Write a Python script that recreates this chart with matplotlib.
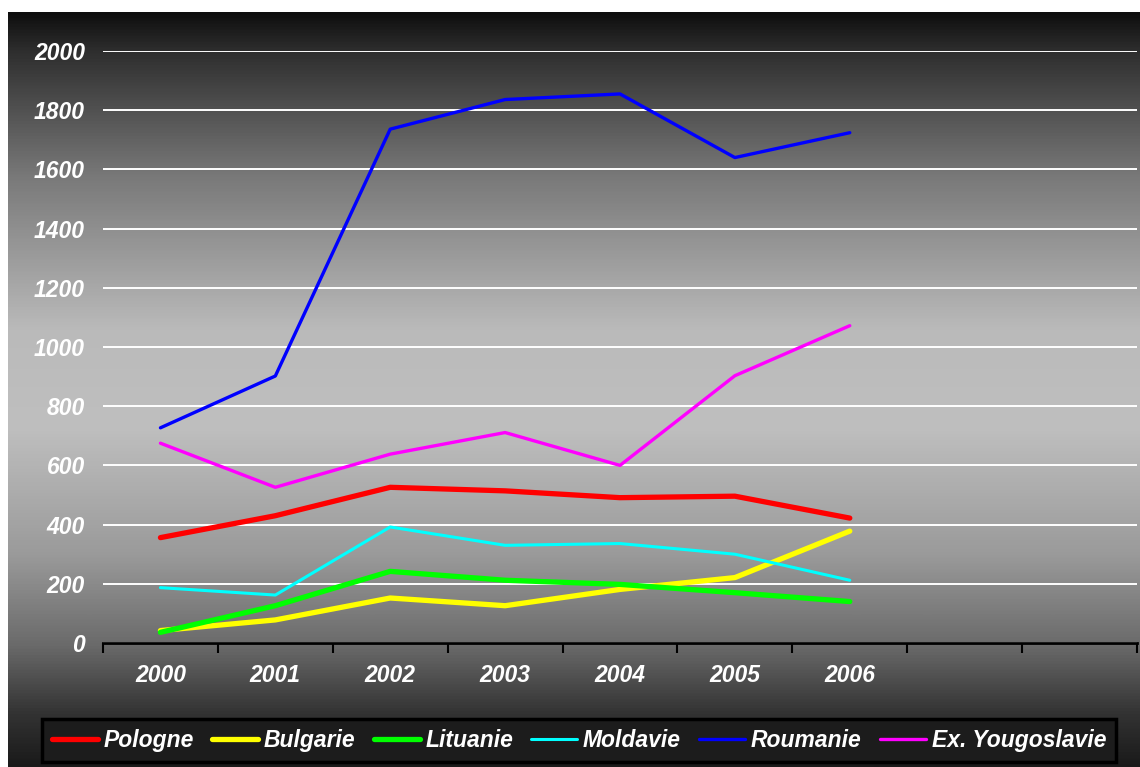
#!/usr/bin/env python

import matplotlib
matplotlib.use('Agg')
import matplotlib.pyplot as pyplot
import numpy as np
from matplotlib.colors import LinearSegmentedColormap

years = ['2000', '2001', '2002', '2003', '2004', '2005', '2006']
nrSlots = 9  # the category axis leaves two empty slots on the right

pologne   = [356, 430, 526, 514, 491, 496, 422]
bulgarie  = [42, 78, 152, 126, 181, 221, 378]
lituanie  = [36, 126, 242, 212, 198, 170, 140]
moldavie  = [187, 162, 392, 330, 336, 300, 212]
roumanie  = [727, 902, 1736, 1836, 1855, 1640, 1724]
yougo     = [675, 526, 638, 711, 600, 903, 1072]

series = [
        ('Pologne',         pologne,  '#ff0000', 3.8),
        ('Bulgarie',        bulgarie, '#ffff00', 3.8),
        ('Lituanie',        lituanie, '#00ff00', 3.8),
        ('Moldavie',        moldavie, '#00ffff', 2.2),
        ('Roumanie',        roumanie, '#0000ff', 2.4),
        ('Ex. Yougoslavie', yougo,    '#ff00ff', 2.4),
]

W, H = 1140, 767
fig = pyplot.figure(figsize=(W / 100.0, H / 100.0), dpi=100)
fig.patch.set_facecolor('white')

font = {'family': 'Liberation Sans', 'weight': 'bold', 'style': 'italic', 'size': 16.5}

# gradient backdrop (black -> light grey -> black)
bg = fig.add_axes([8.0 / W, 0, 1 - 8.0 / W, (H - 12.0) / H])
bg.set_axis_off()
stops = [(0.0, '#0e0e0e'), (0.05, '#2e2e2e'), (0.22, '#7a7a7a'), (0.42, '#bababa'),
         (0.55, '#bfbfbf'), (0.72, '#9a9a9a'), (0.84, '#6a6a6a'), (0.93, '#333333'), (1.0, '#1a1a1a')]
cmap = LinearSegmentedColormap.from_list('bg', stops)
bg.imshow(np.linspace(0, 1, 512).reshape(-1, 1), cmap=cmap, aspect='auto', extent=[0, 1, 0, 1])
bg.set_xlim(0, 1)
bg.set_ylim(0, 1)

ax = fig.add_axes([103.0 / W, (H - 643.0) / H, (1137.0 - 103.0) / W, (643.0 - 51.0) / H])
ax.patch.set_alpha(0)

x = np.arange(len(years)) + 0.5
for name, values, color, lw in series:
        ax.plot(x, values, color=color, linewidth=lw, label=name, solid_capstyle='round', zorder=3)

ax.set_xlim(0, nrSlots)
ax.set_ylim(0, 2000)
ax.set_yticks(np.arange(0, 2001, 200))
ax.yaxis.grid(True, color='white', linewidth=1.4)
ax.set_axisbelow(True)

ax.set_xticks(x)
ax.set_xticklabels(years)
ax.set_xticks(np.arange(nrSlots + 1), minor=True)
ax.tick_params(axis='x', which='major', length=0, pad=15)
ax.tick_params(axis='x', which='minor', length=7, width=1.5, color='black', direction='out')
ax.tick_params(axis='y', length=0, pad=13)
for lab in ax.get_xticklabels() + ax.get_yticklabels():
        lab.set(color='white', **font)

for s in ['top', 'right', 'left']:
        ax.spines[s].set_visible(False)
ax.spines['bottom'].set_color('black')
ax.spines['bottom'].set_linewidth(2)

leg = fig.legend(loc='center', bbox_to_anchor=(579.0 / W, 1 - 740.5 / H), ncol=6,
                 prop={'family': 'Liberation Sans', 'weight': 'bold', 'style': 'italic', 'size': 16.5},
                 frameon=True, fancybox=False, handlelength=2.0, handletextpad=0.25,
                 columnspacing=0.8, borderpad=0.45, borderaxespad=0)
leg.get_frame().set_facecolor('#1c1c1c')
leg.get_frame().set_edgecolor('black')
leg.get_frame().set_linewidth(2.5)
leg.get_frame().set_alpha(1)
for t in leg.get_texts():
        t.set_color('white')
for line in leg.get_lines():
        line.set_solid_capstyle('round')

pyplot.savefig('out.png', dpi=100)
